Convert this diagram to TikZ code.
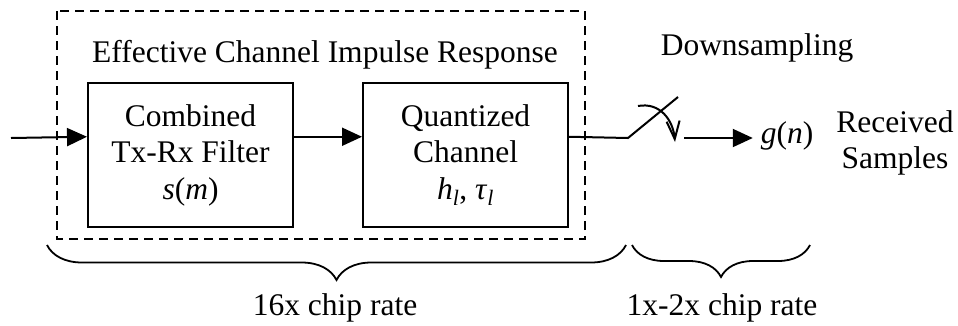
\documentclass[tikz,border=0pt]{standalone}
\usepackage{fontspec}
\setmainfont{Liberation Serif}
\usetikzlibrary{arrows.meta}
\usetikzlibrary{decorations.pathreplacing}

\begin{document}
\begin{tikzpicture}
[x=1pt,y=-1pt,line width=2pt,%
  every node/.style={inner sep=2pt,align=center},%
  block/.style={draw,minimum width=205pt,minimum height=144pt},%
  tri/.style={-{Triangle[length=20pt,width=18pt]}},%
  brc/.style={decorate,decoration={brace,mirror,amplitude=#1},line width=1.8pt}]
\fontsize{31.5}{36.5}\selectfont
\useasboundingbox (0,0) rectangle (958,325);
\draw[dash pattern=on 9pt off 6pt,line width=1.8pt] (57,11) rectangle (585,239);
\node[anchor=base] (title) at (325,62) {Effective Channel Impulse Response};
\node[block] (filt) at (190.5,155) {Combined\\Tx-Rx Filter\\\textit{s}(\textit{m})};
\node[block] (chan) at (465.5,155) {Quantized\\Channel\\\textit{h}\textsubscript{\textit{l}}, \textit{τ}\textsubscript{\textit{l}}};
\node[anchor=base] (down) at (757,55) {Downsampling};
\node[anchor=base,inner sep=7pt] (gn) at (787,143) {\textit{g}(\textit{n})};
\node (recv) at (895,143) {Received\\Samples};
\coordinate (in) at (11,138);
\coordinate (sw) at (628,138);
\coordinate (swtop) at (678,97);
\coordinate (out) at (684,138);
% signal path
\draw[tri] (in) -- (filt.170);
\draw[tri] (filt.10) -- (chan.170);
\draw (chan.10) -- (sw) -- (swtop);
\draw[-{Straight Barb[length=18pt,width=13pt]}] (638,106) .. controls (660,102) and (673,120) .. (675,142);
\draw[tri] (out) -- (out -| gn.west);
% rates
\coordinate (ba) at (47,245);
\coordinate (bb) at (626,245);
\coordinate (bc) at (632,245);
\coordinate (bd) at (810,245);
\draw[brc=35pt] (ba) -- (bb);
\draw[brc=32pt] (bc) -- (bd);
\node[anchor=base] (fast) at (335,315) {16x chip rate};
\node[anchor=base] (slow) at (722,315) {1x-2x chip rate};
\end{tikzpicture}
\end{document}
